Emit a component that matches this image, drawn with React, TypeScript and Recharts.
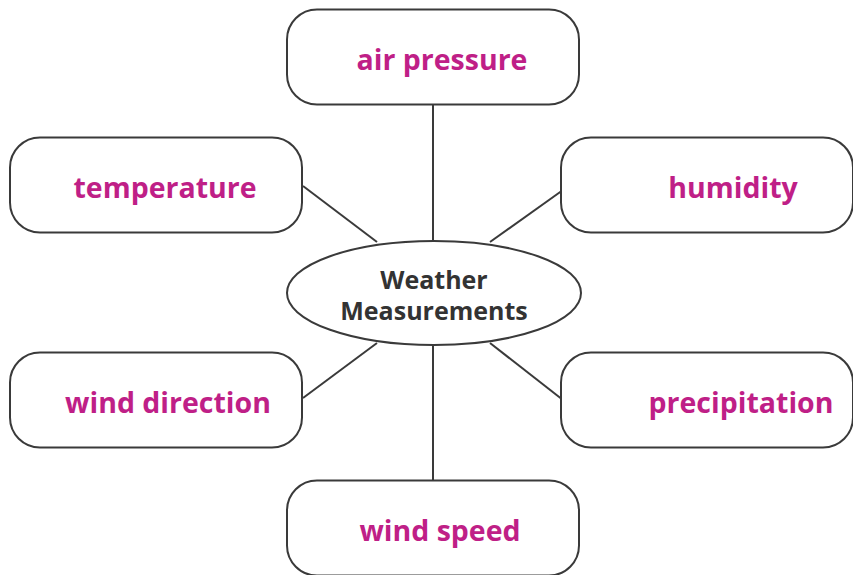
import { Scatter, ScatterChart, XAxis, YAxis } from 'recharts'

// 概念圖：中央橢圓 + 六個圓角方塊，座標用圖面上的單位（0..853 / 0..575）
const CHART_W = 853
const CHART_H = 575

const nodeLabels = ['air pressure', 'temperature', 'humidity', 'wind direction', 'precipitation', 'wind speed']
const nodeX = [433, 156, 707, 156, 707, 433]
const nodeY = [57, 185, 185, 400, 400, 528]
const labelX = [442, 165, 733, 168, 741, 440]

const hubLines = ['Weather', 'Measurements']
const hubX = [434]
const hubY = [293]

const spokeFromX = [433, 303, 563, 303, 563, 433]
const spokeFromY = [105, 186, 190, 398, 400, 482]
const spokeToX = [433, 377, 490, 377, 490, 433]
const spokeToY = [242, 242, 242, 343, 343, 345]

const BOX_W = 292
const BOX_H = 95
const BOX_R = 30
const HUB_RX = 147
const HUB_RY = 52
const INK = '#3a3a3a'
const PINK = '#bf1f87'
const LABEL_FONT = '"Open Sans", sans-serif'

const nodes = nodeLabels.map((label, i) => ({ label, x: nodeX[i], y: nodeY[i], lx: labelX[i] }))
const hub = hubX.map((x, i) => ({ x, y: hubY[i] }))
const spokes = spokeFromX.map((x, i) => [
    { x, y: spokeFromY[i] },
    { x: spokeToX[i], y: spokeToY[i] },
])

type ShapeProps = {
    cx?: number
    cy?: number
    payload?: { label?: string; lx?: number; x: number }
}

function NodeBox(props: ShapeProps) {
    const { cx = 0, cy = 0, payload } = props
    if (!payload) return <g />
    // 文字不一定在方塊正中，domain 跟像素 1:1，直接加偏移
    const tx = cx + (payload.lx! - payload.x)
    return (
        <g>
            <rect
                x={cx - BOX_W / 2}
                y={cy - BOX_H / 2}
                width={BOX_W}
                height={BOX_H}
                rx={BOX_R}
                ry={BOX_R}
                fill="#fff"
                stroke={INK}
                strokeWidth={2}
            />
            <text
                x={tx}
                y={cy + 5}
                textAnchor="middle"
                dominantBaseline="middle"
                fill={PINK}
                fontFamily={LABEL_FONT}
                fontWeight={700}
                fontSize={28.5}
            >
                {payload.label}
            </text>
        </g>
    )
}

function HubShape(props: ShapeProps) {
    const { cx = 0, cy = 0 } = props
    return (
        <g>
            <ellipse cx={cx} cy={cy} rx={HUB_RX} ry={HUB_RY} fill="#fff" stroke={INK} strokeWidth={2} />
            {hubLines.map((line, i) => (
                <text
                    key={line}
                    x={cx}
                    y={cy - 11 + i * 31}
                    textAnchor="middle"
                    dominantBaseline="middle"
                    fill="#333"
                    fontFamily={LABEL_FONT}
                    fontWeight={700}
                    fontSize={25}
                >
                    {line}
                </text>
            ))}
        </g>
    )
}

export default function App() {
    return (
        <div style={{ position: 'absolute', left: 0, top: 0, background: '#fff' }}>
            <ScatterChart width={CHART_W} height={CHART_H} margin={{ top: 0, right: 0, bottom: 0, left: 0 }}>
                <XAxis type="number" dataKey="x" domain={[0, CHART_W]} hide />
                <YAxis type="number" dataKey="y" domain={[0, CHART_H]} reversed hide />
                {spokes.map((seg, i) => (
                    <Scatter
                        key={`spoke-${i}`}
                        data={seg}
                        line={{ stroke: INK, strokeWidth: 2 }}
                        shape={() => <g />}
                        isAnimationActive={false}
                    />
                ))}
                <Scatter data={hub} shape={(p: ShapeProps) => <HubShape {...p} />} isAnimationActive={false} />
                <Scatter data={nodes} shape={(p: ShapeProps) => <NodeBox {...p} />} isAnimationActive={false} />
            </ScatterChart>
        </div>
    )
}
